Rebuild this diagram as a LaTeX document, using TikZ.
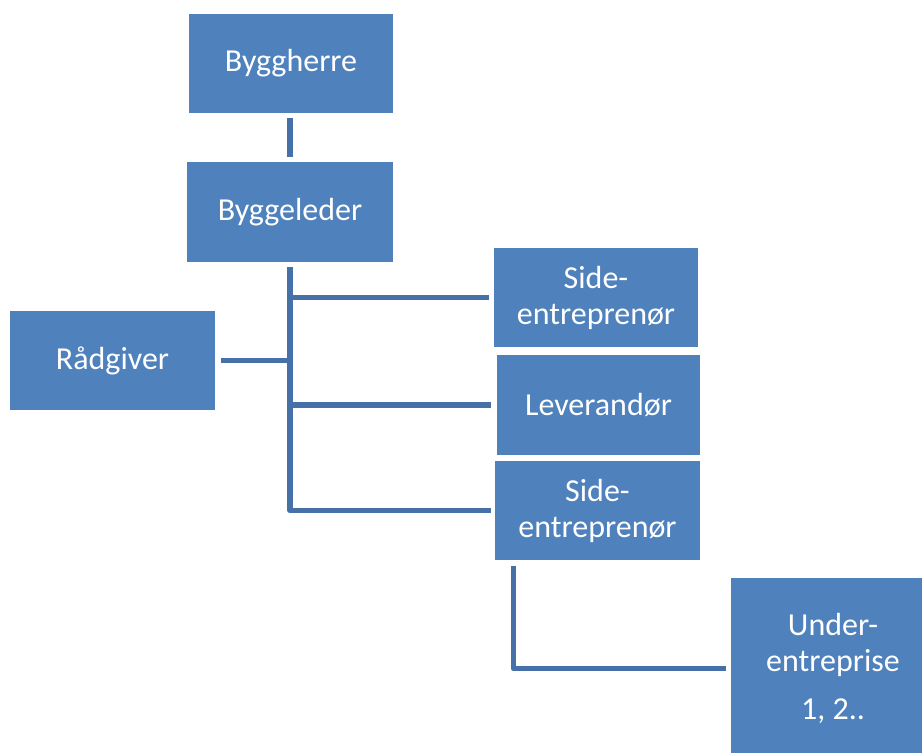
\documentclass[tikz,border=0pt]{standalone}
\usepackage{fontspec}
\setmainfont{Carlito}
\definecolor{boxblue}{HTML}{4F81BD}
\definecolor{linkblue}{HTML}{4670A8}
\begin{document}
\begin{tikzpicture}[x=1pt,y=-1pt,
  orgbox/.style={fill=boxblue,draw=none,text=white,align=center,
    font=\fontsize{32}{36}\selectfont,inner sep=0pt},
  link/.style={draw=linkblue,line width=5.5pt,line join=round}]
\useasboundingbox (0,0) rectangle (922,753);
\begin{scope}
\clip (0,0) rectangle (922,753);
% organisation boxes
\node[orgbox,minimum width=204pt,minimum height=99pt] (bh) at (291,63.5) {Byggherre};
\node[orgbox,minimum width=206pt,minimum height=100pt] (bl) at (290,212) {Byggeleder};
\node[orgbox,minimum width=205pt,minimum height=99pt] (rg) at (112.5,360.5) {Rådgiver};
\node[orgbox,minimum width=204pt,minimum height=99pt] (s1) at (596,297.5) {Side-\\entreprenør};
\node[orgbox,minimum width=203pt,minimum height=100pt] (lv) at (598.5,405) {Leverandør};
\node[orgbox,minimum width=205pt,minimum height=99pt] (s2) at (597.5,510.5) {Side-\\entreprenør};
\node[orgbox,minimum width=204pt,minimum height=181pt] (ue) at (833,668.5) {Under-\\entreprise\\[12pt]1, 2..};
\end{scope}
% connectors
\draw[link] ([yshift=5pt]bl.north) -- ([yshift=-5pt]bl.north |- bh.south);
\draw[link] ([yshift=-5pt]bl.south) |- ([xshift=-4pt]s2.west);
\draw[link] (bl.south |- s1.west) -- ([xshift=-5pt]s1.west);
\draw[link] (bl.south |- lv.west) -- ([xshift=-6pt]lv.west);
\draw[link] ([xshift=6pt]rg.east) -- (bl.south |- rg.east);
\coordinate (drop) at ([xshift=-84pt,yshift=-6pt]s2.south);
\draw[link] (drop) |- ([xshift=-5pt]ue.west);
\end{tikzpicture}
\end{document}
